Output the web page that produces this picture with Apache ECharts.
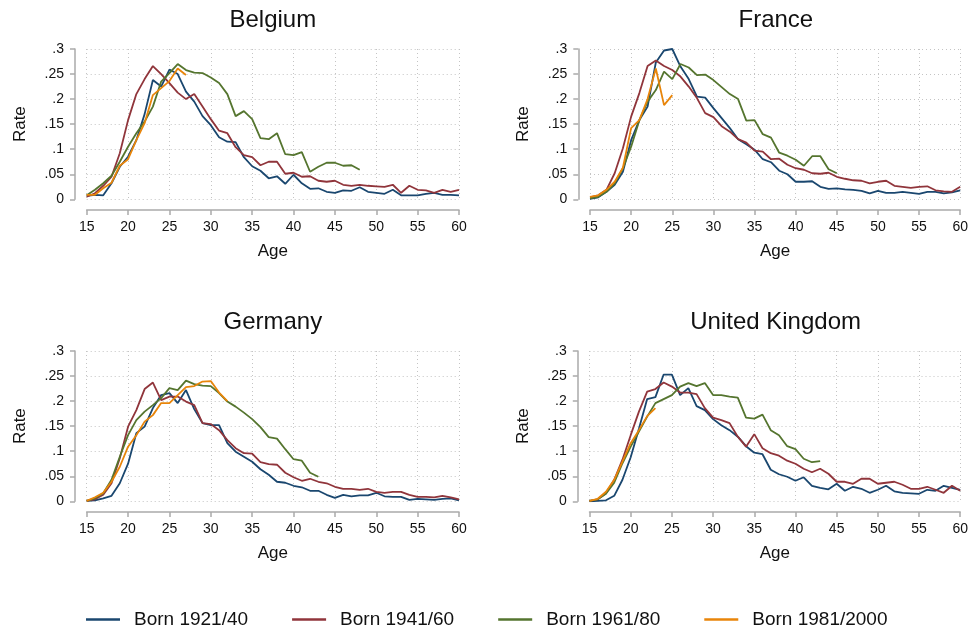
<!DOCTYPE html>
<html>
<head>
<meta charset="utf-8">
<script src="https://cdn.jsdelivr.net/npm/echarts@6/dist/echarts.min.js"></script>
<style>
html,body{margin:0;padding:0;background:#fff;}
#c{width:971px;height:634px;}
</style>
</head>
<body>
<div id="c"></div>
<script>
// ---- data ----
const ages = [];
for (let a = 15; a <= 60; a++) ages.push(a);
const cohorts = ['Born 1921/40', 'Born 1941/60', 'Born 1961/80', 'Born 1981/2000'];
const countries = ['Belgium', 'France', 'Germany', 'United Kingdom'];
const yTickLabels = ['0', '.05', '.1', '.15', '.2', '.25', '.3'];
const xTickLabels = ['15', '20', '25', '30', '35', '40', '45', '50', '55', '60'];

// Belgium (ages from 15)
const belgium1921 = [0.007,0.009,0.008,0.032,0.065,0.085,0.118,0.17,0.238,0.225,0.259,0.25,0.215,0.195,0.166,0.148,0.124,0.115,0.114,0.084,0.066,0.057,0.042,0.046,0.031,0.049,0.032,0.021,0.022,0.015,0.013,0.018,0.017,0.024,0.015,0.013,0.011,0.019,0.008,0.008,0.008,0.011,0.013,0.009,0.009,0.008];
const belgium1941 = [0.005,0.012,0.027,0.045,0.092,0.158,0.21,0.24,0.266,0.25,0.232,0.213,0.2,0.21,0.185,0.16,0.137,0.132,0.104,0.088,0.084,0.068,0.075,0.075,0.051,0.053,0.045,0.046,0.037,0.035,0.037,0.029,0.027,0.029,0.027,0.026,0.025,0.029,0.013,0.027,0.019,0.018,0.013,0.019,0.015,0.019];
const belgium1961 = [0.008,0.019,0.032,0.047,0.075,0.105,0.132,0.155,0.185,0.235,0.252,0.27,0.258,0.253,0.252,0.243,0.232,0.21,0.166,0.176,0.16,0.122,0.12,0.132,0.09,0.088,0.094,0.055,0.065,0.073,0.073,0.067,0.068,0.059];
const belgium1981 = [0.009,0.009,0.022,0.033,0.067,0.08,0.118,0.152,0.208,0.222,0.236,0.261,0.248];

// France
const france1921 = [0.001,0.004,0.015,0.029,0.055,0.118,0.158,0.185,0.273,0.297,0.3,0.265,0.24,0.205,0.203,0.182,0.162,0.142,0.12,0.11,0.099,0.08,0.074,0.057,0.05,0.035,0.035,0.036,0.025,0.021,0.022,0.02,0.019,0.017,0.012,0.017,0.013,0.013,0.015,0.013,0.011,0.015,0.015,0.012,0.014,0.018];
const france1941 = [0.004,0.008,0.019,0.052,0.102,0.165,0.212,0.266,0.277,0.266,0.258,0.245,0.225,0.202,0.172,0.164,0.146,0.135,0.12,0.113,0.097,0.095,0.08,0.081,0.069,0.062,0.059,0.052,0.051,0.053,0.045,0.041,0.038,0.037,0.032,0.035,0.037,0.027,0.025,0.023,0.025,0.026,0.018,0.016,0.015,0.025];
const france1961 = [0.002,0.005,0.015,0.032,0.062,0.105,0.158,0.195,0.218,0.255,0.24,0.27,0.263,0.248,0.249,0.238,0.224,0.21,0.2,0.157,0.158,0.13,0.123,0.093,0.087,0.079,0.067,0.086,0.086,0.06,0.052];
const france1981 = [0.005,0.008,0.019,0.035,0.063,0.142,0.158,0.2,0.261,0.188,0.208];

// Germany
const germany1921 = [0.001,0.002,0.006,0.011,0.036,0.075,0.136,0.149,0.186,0.212,0.216,0.196,0.222,0.184,0.156,0.152,0.152,0.116,0.099,0.089,0.079,0.064,0.053,0.039,0.037,0.031,0.028,0.021,0.021,0.013,0.007,0.013,0.01,0.012,0.012,0.017,0.01,0.009,0.009,0.003,0.005,0.004,0.003,0.005,0.006,0.002];
const germany1941 = [0.001,0.004,0.013,0.036,0.086,0.149,0.182,0.224,0.237,0.202,0.209,0.209,0.199,0.192,0.156,0.154,0.142,0.122,0.106,0.096,0.095,0.078,0.074,0.073,0.057,0.048,0.041,0.045,0.039,0.036,0.029,0.025,0.025,0.023,0.025,0.019,0.017,0.019,0.019,0.013,0.009,0.009,0.008,0.011,0.008,0.004];
const germany1961 = [0.001,0.006,0.016,0.043,0.089,0.132,0.162,0.179,0.192,0.206,0.226,0.222,0.241,0.234,0.231,0.23,0.216,0.199,0.189,0.177,0.164,0.148,0.128,0.125,0.104,0.084,0.081,0.057,0.049];
const germany1981 = [0.001,0.008,0.017,0.039,0.069,0.109,0.132,0.159,0.172,0.196,0.196,0.212,0.228,0.23,0.239,0.24,0.217,0.2];

// United Kingdom
const uk1921 = [0,0.001,0.002,0.011,0.043,0.088,0.145,0.204,0.208,0.253,0.253,0.212,0.226,0.19,0.182,0.164,0.152,0.142,0.129,0.11,0.097,0.094,0.063,0.054,0.049,0.041,0.048,0.031,0.027,0.024,0.035,0.021,0.029,0.025,0.017,0.023,0.031,0.02,0.017,0.016,0.015,0.023,0.021,0.031,0.027,0.023];
const uk1941 = [0.001,0.004,0.016,0.043,0.083,0.132,0.179,0.219,0.224,0.237,0.229,0.217,0.217,0.214,0.186,0.167,0.162,0.156,0.129,0.109,0.134,0.106,0.096,0.091,0.081,0.075,0.065,0.058,0.065,0.055,0.039,0.039,0.035,0.045,0.045,0.035,0.037,0.039,0.033,0.025,0.025,0.029,0.023,0.017,0.031,0.021];
const uk1961 = [0.001,0.004,0.015,0.037,0.076,0.109,0.139,0.169,0.196,0.204,0.212,0.229,0.236,0.23,0.236,0.212,0.212,0.209,0.207,0.167,0.165,0.173,0.142,0.132,0.11,0.104,0.085,0.078,0.08];
const uk1981 = [0.001,0.005,0.019,0.043,0.079,0.116,0.142,0.17,0.186];

const panelData = [
  [belgium1921, belgium1941, belgium1961, belgium1981],
  [france1921, france1941, france1961, france1981],
  [germany1921, germany1941, germany1961, germany1981],
  [uk1921, uk1941, uk1961, uk1981]
];

// ---- styling / layout ----
const colors = ['#1a476f', '#90353b', '#55752f', '#e8850a'];
const FONT = '"Liberation Sans", Arial, Helvetica, sans-serif';
const grids = [
  {left: 86.7, top: 49, width: 372.3, height: 150.3},
  {left: 590, top: 49, width: 371.7, height: 150.3},
  {left: 86.7, top: 351, width: 372.3, height: 150.3},
  {left: 589.5, top: 351, width: 372.2, height: 150.3}
];

const titles = countries.map((c, i) => ({
  text: c,
  left: grids[i].left + grids[i].width / 2,
  top: grids[i].top - 41,
  textAlign: 'center',
  padding: 0,
  textStyle: {fontFamily: FONT, fontSize: 24, fontWeight: 'normal', color: '#111'}
}));

const axisLineStyle = {color: '#aaaaaa', width: 1.5};
const splitLineStyle = {color: '#c4c4c4', width: 1, type: [1, 3]};

const xAxes = grids.map((g, i) => ({
  type: 'value', gridIndex: i, min: 15, max: 60, interval: 5,
  offset: 10.7,
  name: 'Age', nameLocation: 'middle', nameGap: 33,
  nameTextStyle: {fontFamily: FONT, fontSize: 17, color: '#111'},
  axisLine: {show: true, onZero: false, lineStyle: axisLineStyle},
  axisTick: {show: true, length: 5, lineStyle: axisLineStyle},
  axisLabel: {fontFamily: FONT, fontSize: 14, color: '#111', margin: 10,
    formatter: v => xTickLabels[Math.round((v - 15) / 5)]},
  splitLine: {show: true, lineStyle: splitLineStyle}
}));

const yAxes = grids.map((g, i) => ({
  type: 'value', gridIndex: i, min: 0, max: 0.3, interval: 0.05,
  offset: 11.7,
  name: 'Rate', nameLocation: 'middle', nameGap: 46,
  nameTextStyle: {fontFamily: FONT, fontSize: 17, color: '#111'},
  axisLine: {show: true, lineStyle: axisLineStyle},
  axisTick: {show: true, length: 5, lineStyle: axisLineStyle},
  axisLabel: {fontFamily: FONT, fontSize: 14, color: '#111', margin: 11,
    formatter: v => yTickLabels[Math.round(v / 0.05)]},
  splitLine: {show: true, lineStyle: splitLineStyle}
}));

const series = [];
panelData.forEach((arrs, p) => {
  arrs.forEach((vals, k) => {
    series.push({
      type: 'line', name: cohorts[k],
      xAxisIndex: p, yAxisIndex: p,
      data: vals.map((v, j) => [ages[j], v]),
      symbol: 'none', smooth: false, animation: false,
      lineStyle: {color: colors[k], width: 1.8},
      itemStyle: {color: colors[k]},
      z: 2 + k
    });
  });
});

const option = {
  backgroundColor: '#ffffff',
  animation: false,
  color: colors,
  title: titles,
  grid: grids,
  xAxis: xAxes,
  yAxis: yAxes,
  legend: {
    data: cohorts,
    left: 86, top: 610,
    icon: 'rect', itemWidth: 34, itemHeight: 2.5, itemGap: 44,
    padding: 0,
    textStyle: {fontFamily: FONT, fontSize: 19, color: '#111', padding: [0, 0, 0, 9]}
  },
  series: series
};

const chart = echarts.init(document.getElementById('c'), null, {renderer: 'canvas'});
chart.setOption(option);
</script>
</body>
</html>
